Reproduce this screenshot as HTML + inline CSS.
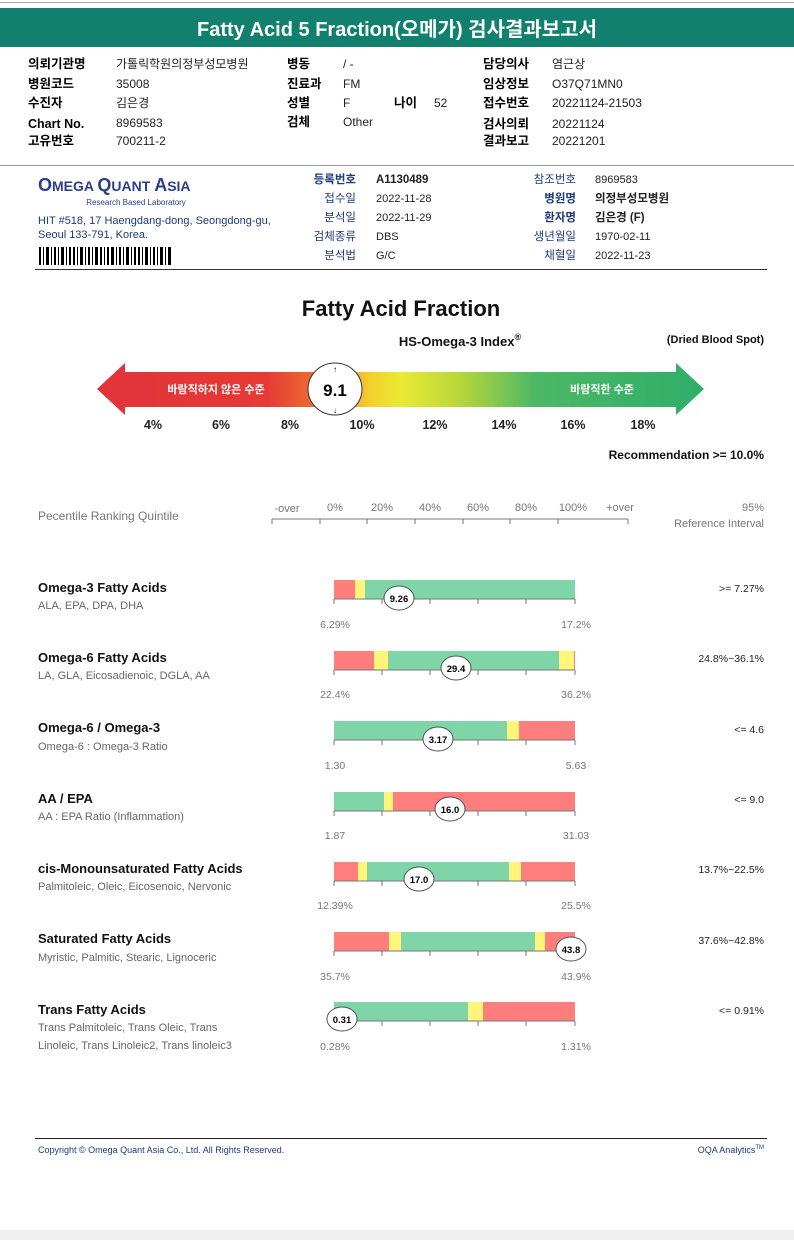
<!DOCTYPE html>
<html><head><meta charset="utf-8"><style>
body{margin:0;background:#fff;}
svg{display:block;font-family:"Liberation Sans","Noto Sans CJK KR",sans-serif;}
.k{font-weight:bold;font-size:12.5px;fill:#000}
.v{font-size:12px;fill:#222}
.b{font-size:11px;fill:#1f3a7a}
.g{font-size:10.5px;fill:#777}
.t{font-size:13px;font-weight:bold;fill:#111}
.s{font-size:11px;fill:#666}
.r{font-size:11px;fill:#222}
.bv{font-size:9.5px;font-weight:bold;fill:#000}
</style></head><body>
<svg width="794" height="1240" viewBox="0 0 794 1240">
<defs>
<linearGradient id="gr" x1="97" x2="704" gradientUnits="userSpaceOnUse" y1="0" y2="0">
<stop offset="0" stop-color="#e2333a"/><stop offset="0.28" stop-color="#e53a36"/>
<stop offset="0.38" stop-color="#f07a2e"/><stop offset="0.45" stop-color="#f3d02c"/>
<stop offset="0.5" stop-color="#eaea34"/><stop offset="0.6" stop-color="#b6d63a"/>
<stop offset="0.72" stop-color="#4db866"/><stop offset="1" stop-color="#2fae68"/>
</linearGradient>
</defs>
<rect x="0" y="2" width="794" height="1" fill="#aaa"/>
<rect x="0" y="8" width="794" height="39" fill="#11806f"/>
<text x="397" y="36" text-anchor="middle" font-size="20" font-weight="bold" fill="#fff">Fatty Acid 5 Fraction(오메가) 검사결과보고서</text>
<g>
<text x="28" y="68" class="k">의뢰기관명</text><text x="116" y="68" class="v">가톨릭학원의정부성모병원</text>
<text x="28" y="88" class="k">병원코드</text><text x="116" y="88" class="v">35008</text>
<text x="28" y="107" class="k">수진자</text><text x="116" y="107" class="v">김은경</text>
<text x="28" y="128" class="k">Chart No.</text><text x="116" y="127" class="v">8969583</text>
<text x="28" y="145" class="k">고유번호</text><text x="116" y="145" class="v">700211-2</text>
<text x="287" y="68" class="k">병동</text><text x="343" y="68" class="v">/ -</text>
<text x="287" y="88" class="k">진료과</text><text x="343" y="88" class="v">FM</text>
<text x="287" y="107" class="k">성별</text><text x="343" y="107" class="v">F</text>
<text x="394" y="107" class="k">나이</text><text x="434" y="107" class="v">52</text>
<text x="287" y="126" class="k">검체</text><text x="343" y="126" class="v">Other</text>
<text x="483" y="68" class="k">담당의사</text><text x="552" y="68" class="v">염근상</text>
<text x="483" y="88" class="k">임상정보</text><text x="552" y="88" class="v">O37Q71MN0</text>
<text x="483" y="107" class="k">접수번호</text><text x="552" y="107" class="v">20221124-21503</text>
<text x="483" y="128" class="k">검사의뢰</text><text x="552" y="128" class="v">20221124</text>
<text x="483" y="145" class="k">결과보고</text><text x="552" y="145" class="v">20221201</text>
</g>
<rect x="0" y="165" width="794" height="1" fill="#999"/>
<text x="38" y="191" font-size="18" font-weight="bold" fill="#2a3f8c">O<tspan font-size="14">MEGA </tspan>Q<tspan font-size="14">UANT </tspan>A<tspan font-size="14">SIA</tspan></text>
<text x="136" y="205" font-size="8" fill="#2a3f8c" text-anchor="middle" dx="0">Research Based Laboratory</text>
<text x="38" y="224" class="b" font-size="9.5">HIT #518, 17 Haengdang-dong, Seongdong-gu,</text>
<text x="38" y="238" class="b" font-size="9.5">Seoul 133-791, Korea.</text>
<g fill="#000">
<rect x="39" y="247" width="2" height="18"/><rect x="43" y="247" width="1" height="18"/><rect x="46" y="247" width="3" height="18"/><rect x="51" y="247" width="1" height="18"/><rect x="54" y="247" width="2" height="18"/><rect x="58" y="247" width="1" height="18"/><rect x="61" y="247" width="3" height="18"/><rect x="66" y="247" width="1" height="18"/><rect x="69" y="247" width="2" height="18"/><rect x="73" y="247" width="2" height="18"/><rect x="77" y="247" width="1" height="18"/><rect x="80" y="247" width="3" height="18"/><rect x="85" y="247" width="1" height="18"/><rect x="88" y="247" width="2" height="18"/><rect x="92" y="247" width="1" height="18"/><rect x="95" y="247" width="3" height="18"/><rect x="100" y="247" width="2" height="18"/><rect x="104" y="247" width="1" height="18"/><rect x="107" y="247" width="2" height="18"/><rect x="111" y="247" width="3" height="18"/><rect x="116" y="247" width="1" height="18"/><rect x="119" y="247" width="2" height="18"/><rect x="123" y="247" width="1" height="18"/><rect x="126" y="247" width="3" height="18"/><rect x="131" y="247" width="1" height="18"/><rect x="134" y="247" width="2" height="18"/><rect x="138" y="247" width="2" height="18"/><rect x="142" y="247" width="1" height="18"/><rect x="145" y="247" width="3" height="18"/><rect x="150" y="247" width="1" height="18"/><rect x="153" y="247" width="2" height="18"/><rect x="157" y="247" width="1" height="18"/><rect x="160" y="247" width="3" height="18"/><rect x="165" y="247" width="1" height="18"/><rect x="168" y="247" width="3" height="18"/>
</g>
<g font-size="11.5">
<text x="356" y="183" text-anchor="end" font-weight="bold" fill="#1f3a7a">등록번호</text><text x="376" y="183" font-weight="bold" fill="#222">A1130489</text>
<text x="356" y="202" text-anchor="end" fill="#1f3a7a">접수일</text><text x="376" y="202" class="r">2022-11-28</text>
<text x="356" y="221" text-anchor="end" fill="#1f3a7a">분석일</text><text x="376" y="221" class="r">2022-11-29</text>
<text x="356" y="240" text-anchor="end" fill="#1f3a7a">검체종류</text><text x="376" y="240" class="r">DBS</text>
<text x="356" y="259" text-anchor="end" fill="#1f3a7a">분석법</text><text x="376" y="259" class="r">G/C</text>
<text x="576" y="183" text-anchor="end" fill="#1f3a7a">참조번호</text><text x="595" y="183" class="r">8969583</text>
<text x="576" y="202" text-anchor="end" font-weight="bold" fill="#1f3a7a">병원명</text><text x="595" y="202" font-weight="bold" fill="#222">의정부성모병원</text>
<text x="576" y="221" text-anchor="end" font-weight="bold" fill="#1f3a7a">환자명</text><text x="595" y="221" font-weight="bold" fill="#222">김은경 (F)</text>
<text x="576" y="240" text-anchor="end" fill="#1f3a7a">생년월일</text><text x="595" y="240" class="r">1970-02-11</text>
<text x="576" y="259" text-anchor="end" fill="#1f3a7a">채혈일</text><text x="595" y="259" class="r">2022-11-23</text>
</g>
<rect x="35" y="269" width="732" height="1" fill="#333"/>

<text x="401" y="316" text-anchor="middle" font-size="22" font-weight="bold" fill="#111">Fatty Acid Fraction</text>
<text x="460" y="346" text-anchor="middle" font-size="13" font-weight="bold" fill="#111">HS-Omega-3 Index<tspan font-size="9" dy="-6">®</tspan></text>
<text x="764" y="343" text-anchor="end" font-size="11" font-weight="bold" fill="#111">(Dried Blood Spot)</text>
<path d="M97,389 L125,363 L125,372 L676,372 L676,363 L704,389 L676,415 L676,407 L125,407 L125,415 Z" fill="url(#gr)"/>
<text x="216" y="393" text-anchor="middle" font-size="11" font-weight="bold" fill="#fff">바람직하지 않은 수준</text>
<text x="602" y="393" text-anchor="middle" font-size="11" font-weight="bold" fill="#fff">바람직한 수준</text>
<ellipse cx="335" cy="389" rx="27" ry="26" fill="#fff" stroke="#333"/>
<text x="335" y="396" text-anchor="middle" font-size="17" font-weight="bold" fill="#000">9.1</text>
<text x="335" y="372" text-anchor="middle" font-size="8">↑</text><text x="335" y="413" text-anchor="middle" font-size="8">↓</text>
<g font-size="12.5" font-weight="bold" fill="#222" text-anchor="middle">
<text x="153" y="429">4%</text><text x="221" y="429">6%</text><text x="290" y="429">8%</text><text x="362" y="429">10%</text><text x="435" y="429">12%</text><text x="504" y="429">14%</text><text x="573" y="429">16%</text><text x="643" y="429">18%</text>
</g>
<text x="764" y="459" text-anchor="end" font-size="12" font-weight="bold" fill="#111">Recommendation  &gt;= 10.0%</text>

<text x="38" y="520" font-size="12" fill="#777">Pecentile Ranking Quintile</text>
<g font-size="11" fill="#777" text-anchor="middle">
<text x="287" y="512">-over</text><text x="335" y="511">0%</text><text x="382" y="511">20%</text><text x="430" y="511">40%</text><text x="478" y="511">60%</text><text x="526" y="511">80%</text><text x="573" y="511">100%</text><text x="620" y="511">+over</text>
</g>
<text x="764" y="511" text-anchor="end" font-size="11" fill="#777">95%</text>
<text x="764" y="527" text-anchor="end" font-size="11" fill="#777">Reference Interval</text>
<g stroke="#777" fill="none"><path d="M272,519 H628 M272,519 v5 M320,519 v5 M367,519 v5 M415,519 v5 M463,519 v5 M510,519 v5 M558,519 v5 M628,519 v5"/></g>

<!-- rows -->
<g id="rows">
<!-- row helper drawn manually -->
<g transform="translate(0,580)">
<rect x="334" y="0" width="21" height="19" fill="#fe7d7d"/><rect x="355" y="0" width="10" height="19" fill="#fef57a"/><rect x="365" y="0" width="210" height="19" fill="#7fd5a7"/>
</g>
<g transform="translate(0,651)">
<rect x="334" y="0" width="40" height="19" fill="#fe7d7d"/><rect x="374" y="0" width="14" height="19" fill="#fef57a"/><rect x="388" y="0" width="171" height="19" fill="#7fd5a7"/><rect x="559" y="0" width="15" height="19" fill="#fef57a"/><rect x="574" y="0" width="1" height="19" fill="#fe7d7d"/>
</g>
<g transform="translate(0,721)">
<rect x="334" y="0" width="173" height="19" fill="#7fd5a7"/><rect x="507" y="0" width="12" height="19" fill="#fef57a"/><rect x="519" y="0" width="56" height="19" fill="#fe7d7d"/>
</g>
<g transform="translate(0,792)">
<rect x="334" y="0" width="50" height="19" fill="#7fd5a7"/><rect x="384" y="0" width="9" height="19" fill="#fef57a"/><rect x="393" y="0" width="182" height="19" fill="#fe7d7d"/>
</g>
<g transform="translate(0,862)">
<rect x="334" y="0" width="24" height="19" fill="#fe7d7d"/><rect x="358" y="0" width="9" height="19" fill="#fef57a"/><rect x="367" y="0" width="142" height="19" fill="#7fd5a7"/><rect x="509" y="0" width="12" height="19" fill="#fef57a"/><rect x="521" y="0" width="54" height="19" fill="#fe7d7d"/>
</g>
<g transform="translate(0,932)">
<rect x="334" y="0" width="55" height="19" fill="#fe7d7d"/><rect x="389" y="0" width="12" height="19" fill="#fef57a"/><rect x="401" y="0" width="134" height="19" fill="#7fd5a7"/><rect x="535" y="0" width="10" height="19" fill="#fef57a"/><rect x="545" y="0" width="30" height="19" fill="#fe7d7d"/>
</g>
<g transform="translate(0,1002)">
<rect x="334" y="0" width="134" height="19" fill="#7fd5a7"/><rect x="468" y="0" width="15" height="19" fill="#fef57a"/><rect x="483" y="0" width="92" height="19" fill="#fe7d7d"/>
</g>
</g>
<g stroke="#777" fill="none">
<path d="M334,599H575 M334,599v5 M382,599v5 M430,599v5 M478,599v5 M526,599v5 M575,599v5"/>
<path d="M334,670H575 M334,670v5 M382,670v5 M430,670v5 M478,670v5 M526,670v5 M575,670v5"/>
<path d="M334,740H575 M334,740v5 M382,740v5 M430,740v5 M478,740v5 M526,740v5 M575,740v5"/>
<path d="M334,811H575 M334,811v5 M382,811v5 M430,811v5 M478,811v5 M526,811v5 M575,811v5"/>
<path d="M334,881H575 M334,881v5 M382,881v5 M430,881v5 M478,881v5 M526,881v5 M575,881v5"/>
<path d="M334,951H575 M334,951v5 M382,951v5 M430,951v5 M478,951v5 M526,951v5 M575,951v5"/>
<path d="M334,1021H575 M334,1021v5 M382,1021v5 M430,1021v5 M478,1021v5 M526,1021v5 M575,1021v5"/>
</g>
<g stroke="#555" fill="#fff">
<ellipse cx="399" cy="598" rx="15" ry="12"/><ellipse cx="456" cy="668" rx="15" ry="12"/><ellipse cx="438" cy="739" rx="15" ry="12"/><ellipse cx="450" cy="809" rx="15" ry="12"/><ellipse cx="419" cy="879" rx="15" ry="12"/><ellipse cx="571" cy="949" rx="15" ry="12"/><ellipse cx="342" cy="1019" rx="15" ry="12"/>
</g>
<g class="bv" text-anchor="middle" font-size="9.5" font-weight="bold">
<text x="399" y="602">9.26</text><text x="456" y="672">29.4</text><text x="438" y="743">3.17</text><text x="450" y="813">16.0</text><text x="419" y="883">17.0</text><text x="571" y="953">43.8</text><text x="342" y="1023">0.31</text>
</g>
<g font-size="10.5" fill="#777" text-anchor="middle">
<text x="335" y="628">6.29%</text><text x="576" y="628">17.2%</text>
<text x="335" y="698">22.4%</text><text x="576" y="698">36.2%</text>
<text x="335" y="769">1.30</text><text x="576" y="769">5.63</text>
<text x="335" y="839">1.87</text><text x="576" y="839">31.03</text>
<text x="335" y="909">12.39%</text><text x="576" y="909">25.5%</text>
<text x="335" y="980">35.7%</text><text x="576" y="980">43.9%</text>
<text x="335" y="1050">0.28%</text><text x="576" y="1050">1.31%</text>
</g>
<g>
<text x="38" y="592" class="t">Omega-3 Fatty Acids</text><text x="38" y="609" class="s">ALA, EPA, DPA, DHA</text>
<text x="38" y="662" class="t">Omega-6 Fatty Acids</text><text x="38" y="679" class="s">LA, GLA, Eicosadienoic, DGLA, AA</text>
<text x="38" y="732" class="t">Omega-6 / Omega-3</text><text x="38" y="750" class="s">Omega-6 : Omega-3 Ratio</text>
<text x="38" y="803" class="t">AA / EPA</text><text x="38" y="820" class="s">AA : EPA Ratio (Inflammation)</text>
<text x="38" y="873" class="t">cis-Monounsaturated Fatty Acids</text><text x="38" y="890" class="s">Palmitoleic, Oleic, Eicosenoic, Nervonic</text>
<text x="38" y="943" class="t">Saturated Fatty Acids</text><text x="38" y="961" class="s">Myristic, Palmitic, Stearic, Lignoceric</text>
<text x="38" y="1014" class="t">Trans Fatty Acids</text><text x="38" y="1031" class="s">Trans Palmitoleic, Trans Oleic, Trans</text><text x="38" y="1049" class="s">Linoleic, Trans Linoleic2, Trans linoleic3</text>
</g>
<g font-size="10.5" fill="#222" text-anchor="end">
<text x="764" y="592">&gt;= 7.27%</text><text x="764" y="662">24.8%~36.1%</text><text x="764" y="733">&lt;= 4.6</text><text x="764" y="803">&lt;= 9.0</text><text x="764" y="873">13.7%~22.5%</text><text x="764" y="944">37.6%~42.8%</text><text x="764" y="1014">&lt;= 0.91%</text>
</g>
<rect x="35" y="1138" width="732" height="1" fill="#222"/>
<text x="38" y="1153" font-size="9" fill="#1f3a7a">Copyright © Omega Quant Asia Co., Ltd.  All Rights Reserved.</text>
<text x="764" y="1153" text-anchor="end" font-size="9" fill="#1f3a7a">OQA Analytics<tspan font-size="6" dy="-4">TM</tspan></text>
<rect x="0" y="1230" width="794" height="10" fill="#f0f0f0"/>
</svg>
</body></html>
